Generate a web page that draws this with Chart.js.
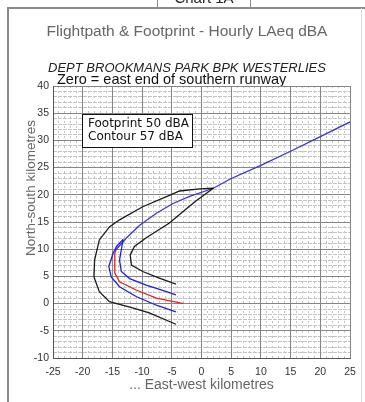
<!DOCTYPE html>
<html>
<head>
<meta charset="utf-8">
<script src="https://cdn.jsdelivr.net/npm/chart.js@4/dist/chart.umd.min.js"></script>
<style>
html, body { margin: 0; padding: 0; background: #fff; }
canvas { display: block; }
</style>
</head>
<body>
<canvas id="flightpath" width="365" height="402"></canvas>
<script>
// axis ranges (km)
const xRange = [-25, 25];
const yRange = [-10, 40];

// flight path (blue), from the far end back to the turn
const pathX = [25, 20, 15, 10, 5, 2, -2, -4.8, -7.6, -10.4, -12.7, -14.4];
const pathY = [33.4, 30.7, 28.0, 25.4, 23.0, 21.2, 19.7, 18.4, 16.6, 14.4, 12.0, 9.9];

// track after the turn (red)
const trackX = [-14.4, -14.6, -14.6, -13.8, -11, -7.6, -3];
const trackY = [9.9, 9.2, 5.6, 4.0, 2.5, 1.0, 0];

// contour 57 dBA (two blue edges)
const contourOuterX = [-13.2, -14.3, -14.9, -15.6, -15.2, -13.8, -11, -7.6, -4.3];
const contourOuterY = [11.8, 10.5, 9.2, 6.8, 4.9, 3.1, 1.3, -0.3, -1.5];
const contourInnerX = [-13.2, -13.5, -13.8, -13.5, -12.1, -9.3, -5.9, -4.3];
const contourInnerY = [11.8, 9.9, 8.0, 5.9, 4.6, 3.4, 2.2, 1.6];

// footprint 50 dBA (black outline)
const footOuterX = [2, -0.3, -3.7, -5.4, -9.9, -13.8, -15.5, -17.2, -18, -18.1, -17.2, -15.5, -11.6, -8.8, -4.3];
const footOuterY = [21.2, 21.1, 20.7, 19.9, 17.8, 15.4, 14.1, 11.7, 8, 4.9, 2.2, 0.35, -0.8, -1.7, -3.8];
const footInnerX = [2, -1, -3, -5.4, -9.3, -11.3, -12, -11.8, -9.9, -7.1, -4.3];
const footInnerY = [21.2, 18.8, 17.0, 14.8, 12.1, 10.5, 8.9, 7.1, 5.9, 4.7, 3.6];

function pts(xs, ys) {
    var out = [];
    for (var i = 0; i < xs.length; i++) {
        out.push({ x: xs[i], y: ys[i] });
    }
    return out;
}

function line(label, xs, ys, color) {
    return {
        label: label,
        data: pts(xs, ys),
        showLine: true,
        borderColor: color,
        borderWidth: 1.3,
        pointRadius: 0,
        tension: 0
    };
}

const font = "'Liberation Sans', Arial, sans-serif";

const decorations = {
    id: 'decorations',
    beforeDraw(chart) {
        const ctx = chart.ctx;
        ctx.save();
        ctx.fillStyle = '#fff';
        ctx.fillRect(0, 0, chart.width, chart.height);
        // outer frame
        ctx.strokeStyle = '#8a8a8a';
        ctx.lineWidth = 2;
        ctx.beginPath();
        ctx.moveTo(8, 402);
        ctx.lineTo(8, 8);
        ctx.lineTo(365, 8);
        ctx.stroke();
        ctx.lineWidth = 1;
        ctx.strokeStyle = '#ddd';
        ctx.beginPath();
        ctx.moveTo(361.5, 8);
        ctx.lineTo(361.5, 402);
        ctx.stroke();
        // header cell
        ctx.strokeStyle = '#8a8a8a';
        ctx.beginPath();
        ctx.moveTo(157.5, 0);
        ctx.lineTo(157.5, 8);
        ctx.moveTo(250.5, 0);
        ctx.lineTo(250.5, 8);
        ctx.stroke();
        ctx.fillStyle = '#222';
        ctx.font = '15px ' + font;
        ctx.textAlign = 'center';
        ctx.textBaseline = 'alphabetic';
        ctx.fillText('Chart 1A', 204, 3);
        // titles
        ctx.fillStyle = '#666';
        ctx.font = '15.5px ' + font;
        ctx.textBaseline = 'middle';
        ctx.fillText('Flightpath & Footprint - Hourly LAeq dBA', 187, 32);
        ctx.fillStyle = '#222';
        ctx.font = 'italic 13px ' + font;
        ctx.fillText('DEPT BROOKMANS PARK BPK WESTERLIES', 187, 68);
        ctx.fillStyle = '#111';
        ctx.font = '14.5px ' + font;
        ctx.textAlign = 'left';
        ctx.fillText('Zero = east end of southern runway', 57, 80);
        // y title
        ctx.translate(31, 188);
        ctx.rotate(-Math.PI / 2);
        ctx.textAlign = 'center';
        ctx.fillStyle = '#666';
        ctx.font = '13.5px ' + font;
        ctx.fillText('North-south kilometres', 0, 0);
        ctx.restore();
    },
    afterDraw(chart) {
        const ctx = chart.ctx;
        ctx.save();
        ctx.fillStyle = '#fff';
        ctx.strokeStyle = '#111';
        ctx.lineWidth = 1;
        ctx.fillRect(82.5, 114.5, 110, 33);
        ctx.strokeRect(82.5, 114.5, 110, 33);
        ctx.fillStyle = '#111';
        ctx.font = "12px 'DejaVu Sans', sans-serif";
        ctx.textBaseline = 'middle';
        ctx.fillText('Footprint 50 dBA', 88, 123.5);
        ctx.fillText('Contour 57 dBA', 88, 137);
        ctx.restore();
    }
};

const minorGrid = {
    display: true,
    ticks: { display: false, stepSize: 1 },
    border: { display: false, dash: [2, 3] },
    grid: { color: '#c4c4c4', drawTicks: false, lineWidth: 1 }
};

new Chart('flightpath', {
    type: 'scatter',
    data: {
        datasets: [
            line('Footprint outer', footOuterX, footOuterY, '#1a1a1a'),
            line('Footprint inner', footInnerX, footInnerY, '#1a1a1a'),
            line('Contour outer', contourOuterX, contourOuterY, '#1f1fe0'),
            line('Contour inner', contourInnerX, contourInnerY, '#1f1fe0'),
            line('Track', trackX, trackY, '#e0281c'),
            line('Flightpath', pathX, pathY, '#3c34d0')
        ]
    },
    options: {
        responsive: false,
        animation: false,
        layout: { padding: { left: 0, right: 15, top: 86, bottom: 0 } },
        plugins: {
            legend: { display: false },
            tooltip: { enabled: false }
        },
        scales: {
            x2: Object.assign({}, minorGrid, {
                type: 'linear', position: 'bottom', min: xRange[0], max: xRange[1],
                afterFit: function (s) { s.height = 0; }
            }),
            y2: Object.assign({}, minorGrid, {
                type: 'linear', position: 'left', min: yRange[0], max: yRange[1],
                border: { display: false, dash: [4, 1] },
                afterFit: function (s) { s.width = 0; }
            }),
            x: {
                type: 'linear',
                min: xRange[0],
                max: xRange[1],
                afterFit: function (s) { s.height = 44; },
                ticks: { stepSize: 5, padding: 8, color: '#333', font: { family: font, size: 10.5 } },
                grid: { color: '#858585', drawTicks: false },
                border: { color: '#555', width: 1 },
                title: {
                    display: true,
                    text: '... East-west kilometres',
                    color: '#666',
                    font: { family: font, size: 14 },
                    padding: { top: 0, bottom: 8 }
                }
            },
            y: {
                type: 'linear',
                min: yRange[0],
                max: yRange[1],
                afterFit: function (s) { s.width = 53; },
                ticks: { stepSize: 5, padding: 4, color: '#333', font: { family: font, size: 10.5 } },
                grid: { color: '#858585', drawTicks: false },
                border: { color: '#555', width: 1 }
            }
        }
    },
    plugins: [decorations]
});
</script>
</body>
</html>
